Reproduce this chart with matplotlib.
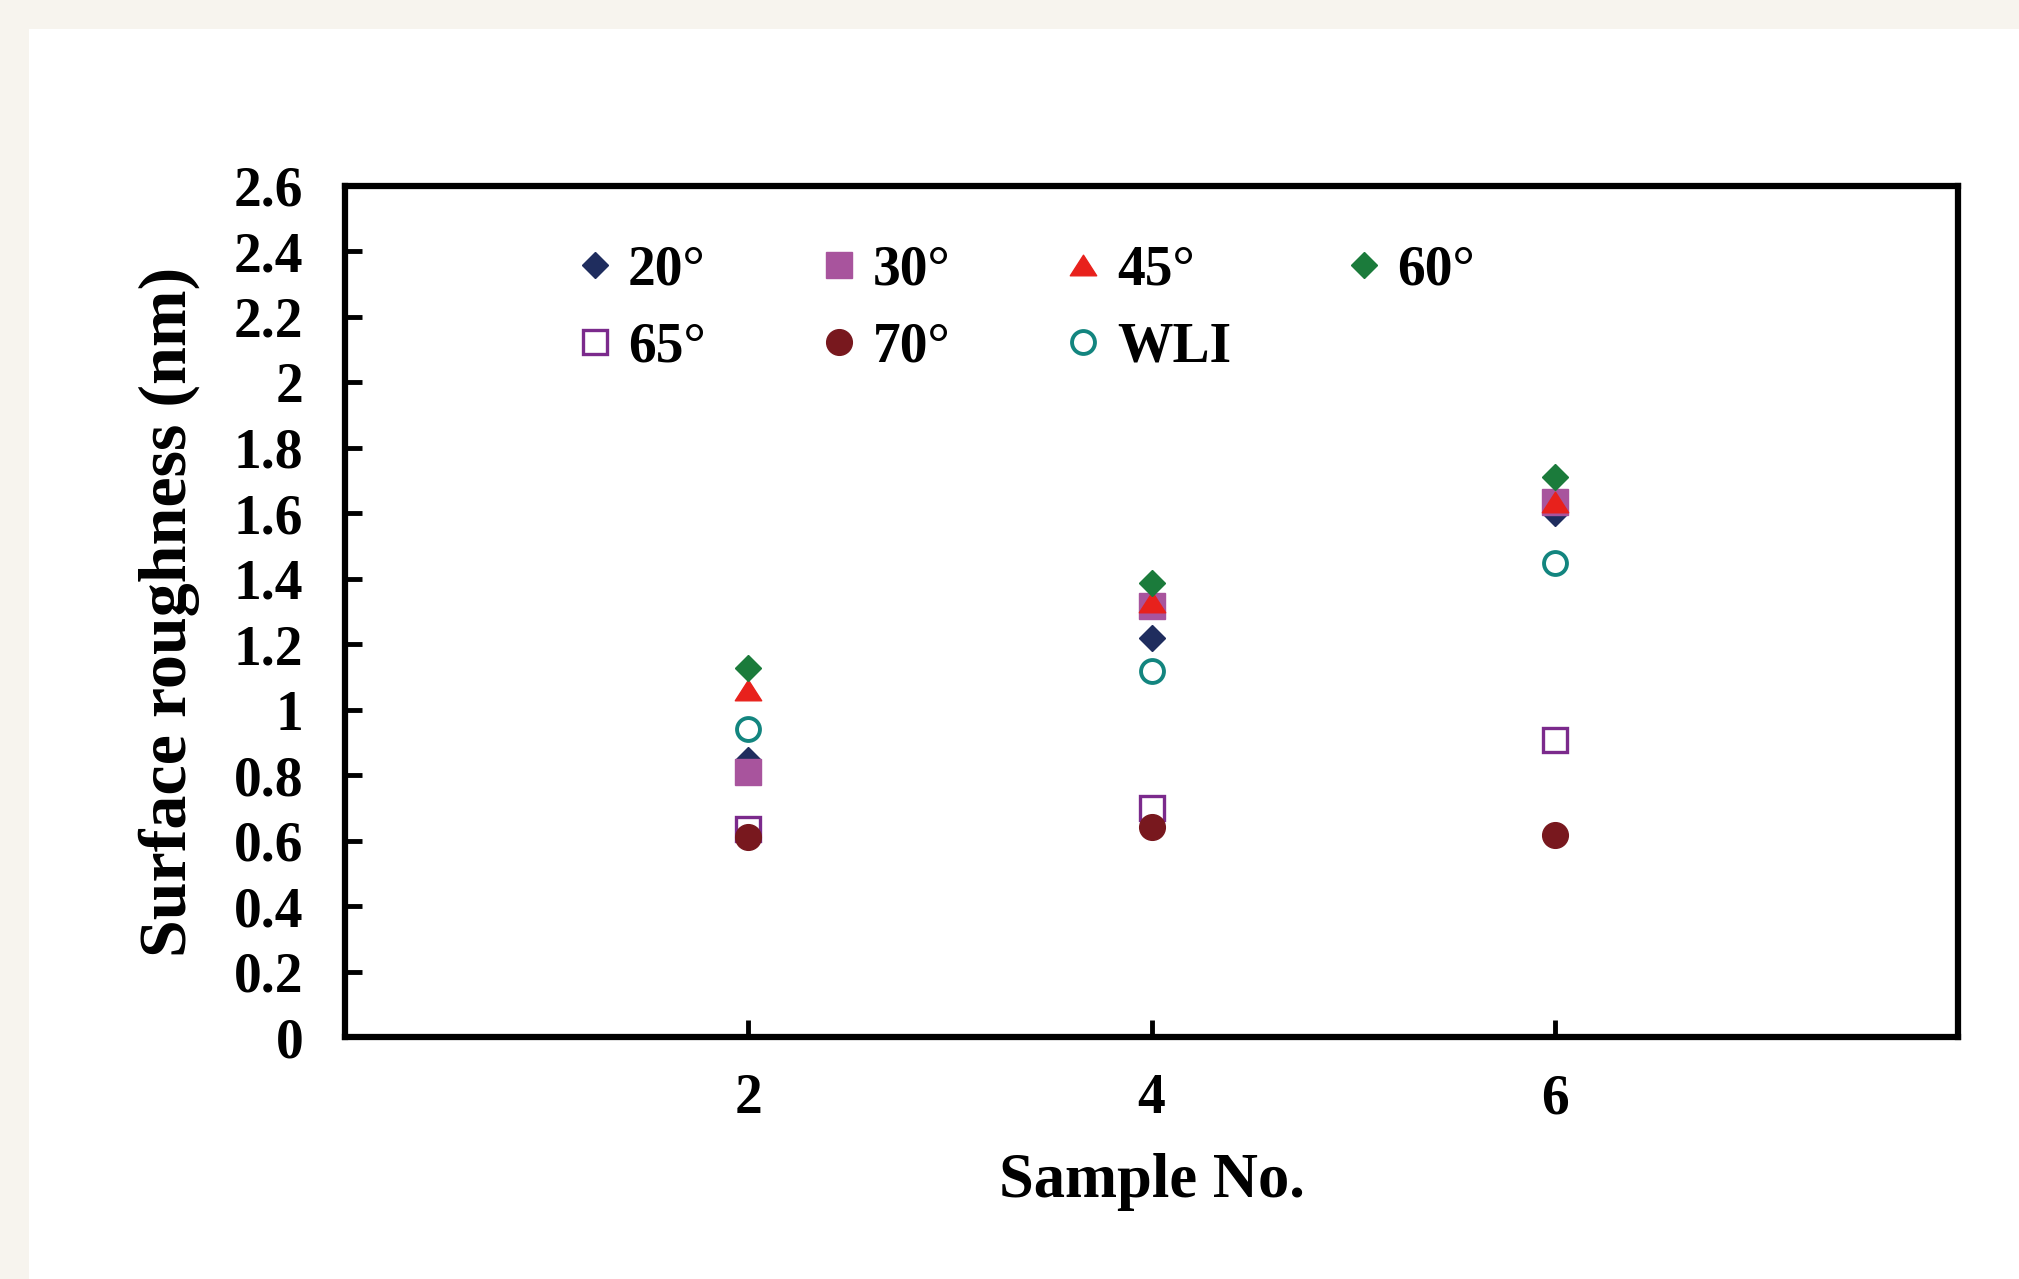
import matplotlib
matplotlib.use('Agg')
import matplotlib.pyplot as plt
from matplotlib.patches import Rectangle
from matplotlib.path import Path

# sample numbers and roughness values (nm) per incidence angle
samples = [2, 4, 6]
r20 = [0.845, 1.22, 1.60]
r30 = [0.81, 1.318, 1.635]
r45 = [1.06, 1.33, 1.635]
r60 = [1.127, 1.387, 1.711]
r65 = [0.636, 0.70, 0.907]
r70 = [0.611, 0.642, 0.617]
wli = [0.94, 1.118, 1.448]

x_ticks = [2, 4, 6]
y_ticks = [0, 0.2, 0.4, 0.6, 0.8, 1, 1.2, 1.4, 1.6, 1.8, 2, 2.2, 2.4, 2.6]

plt.rcParams['font.family'] = 'Liberation Serif'
plt.rcParams['font.weight'] = 'bold'
plt.rcParams['axes.labelweight'] = 'bold'

# flat excel-like triangle
tri = Path([(-1, -0.78), (1, -0.78), (0, 0.78), (-1, -0.78)],
           [Path.MOVETO, Path.LINETO, Path.LINETO, Path.CLOSEPOLY])

fig = plt.figure(figsize=(20.19, 12.79), dpi=100)
fig.patch.set_facecolor('#f7f4ee')
fig.add_artist(Rectangle((29/2019, 0), 1, 1 - 29/1279, transform=fig.transFigure,
                         facecolor='white', edgecolor='none', zorder=-10))
ax = fig.add_axes([345/2019, 1 - 1037/1279, 1613/2019, 851/1279])

h20, = ax.plot(samples, r20, ls='none', marker='D', ms=13, color='#1f2d5e', mec='#1f2d5e', label='20°')
h30, = ax.plot(samples, r30, ls='none', marker='s', ms=18.5, color='#a8549d', mec='#a8549d', label='30°')
h45, = ax.plot(samples, r45, ls='none', marker=tri, ms=19, color='#e8211c', mec='#e8211c', label='45°')
h60, = ax.plot(samples, r60, ls='none', marker='D', ms=13, color='#1b7b3b', mec='#1b7b3b', label='60°')
h65, = ax.plot(samples, r65, ls='none', marker='s', ms=17, mfc='white', mec='#7b2a8c', mew=2.4, label='65°')
h70, = ax.plot(samples, r70, ls='none', marker='o', ms=18.5, color='#78181e', mec='#78181e', label='70°')
hwl, = ax.plot(samples, wli, ls='none', marker='o', ms=16.5, mfc='white', mec='#13857f', mew=2.8, label='WLI')

ax.set_xlim(0, 8)
ax.set_ylim(0, 2.6)
ax.set_xticks(x_ticks)
ax.set_xticklabels([str(v) for v in x_ticks])
ax.set_yticks(y_ticks)
ax.set_yticklabels(['%g' % v for v in y_ticks])

for s in ax.spines.values():
    s.set_linewidth(4.5)
ax.tick_params(axis='both', direction='in', length=12, width=3.5, labelsize=40)
ax.tick_params(axis='y', pad=30)
ax.tick_params(axis='x', pad=26)

ax.set_xlabel('Sample No.', fontsize=45, fontweight='bold', labelpad=20)
ax.set_ylabel('Surface roughness (nm)', fontsize=49, fontweight='bold', labelpad=24)

# column-major order so rows read 20,30,45,60 / 65,70,WLI
handles = [h20, h65, h30, h70, h45, hwl, h60]
ax.legend(handles=handles, ncol=4, loc='center left', bbox_to_anchor=(0.141, 0.856),
          frameon=False, fontsize=40, handlelength=0.8, handletextpad=0.2,
          columnspacing=2.0, labelspacing=0.45, borderpad=0, borderaxespad=0)

fig.savefig('out.png', dpi=100, facecolor=fig.get_facecolor())
